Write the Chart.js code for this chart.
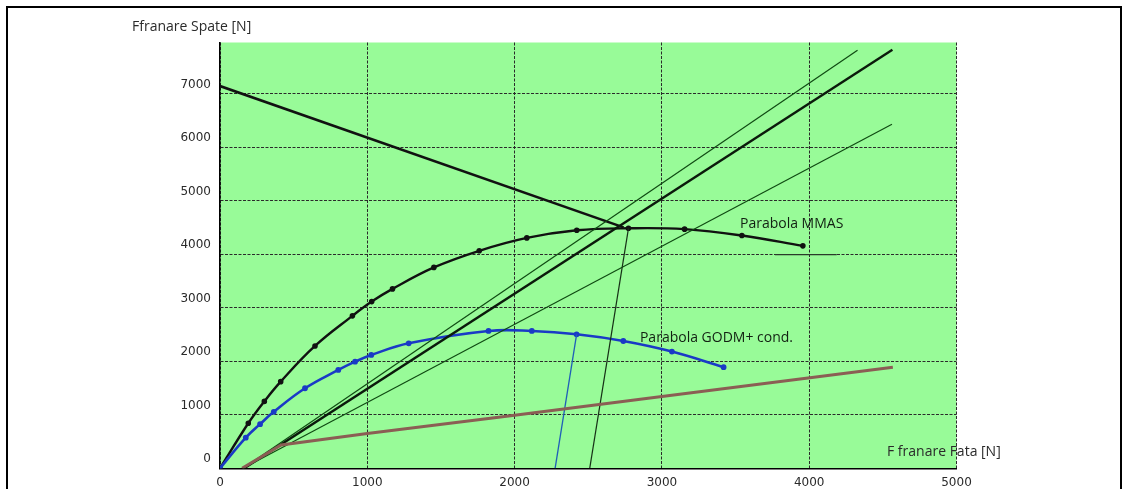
<!DOCTYPE html>
<html>
<head>
<meta charset="utf-8">
<script src="https://cdn.jsdelivr.net/npm/chart.js@4/dist/chart.umd.min.js"></script>
<style>
  html, body { margin: 0; padding: 0; background: #fff; width: 1132px; height: 489px; overflow: hidden; }
  #frame { position: absolute; left: 6px; top: 6px; width: 1112px; height: 500px;
           border: 2px solid #000; border-bottom: none; }
  #chart { position: absolute; left: 0; top: 0; }
</style>
</head>
<body>
<div id="frame"></div>
<canvas id="chart" width="1132" height="489"></canvas>
<script>
// Axis ticks
const xTicks = [0, 1000, 2000, 3000, 4000, 5000];
const yTicks = [0, 1000, 2000, 3000, 4000, 5000, 6000, 7000];

// Parabola MMAS (rear vs front braking force)
const mmasX = [0, 192, 301, 412, 645, 899, 1030, 1171, 1452, 1760, 2083, 2422, 2773, 3154, 3543, 3957];
const mmasY = [0, 841, 1250, 1618, 2285, 2847, 3114, 3351, 3752, 4063, 4303, 4446, 4483, 4467, 4348, 4155];

// Parabola GODM+ cond.
const godmX = [0, 175, 272, 365, 577, 803, 917, 1027, 1281, 1823, 2117, 2421, 2738, 3068, 3419];
const godmY = [0, 572, 825, 1055, 1495, 1837, 1992, 2117, 2335, 2565, 2565, 2503, 2378, 2180, 1888];

// Straight construction lines
const declineX = [0, 2740];
const declineY = [7140, 4500];
const thickX = [164, 4565];
const thickY = [0, 7819];
const upperX = [157, 4328];
const upperY = [0, 7806];
const lowerX = [157, 4562];
const lowerY = [0, 6425];
const brownX = [150, 415, 1000, 2000, 3000, 4568];
const brownY = [0, 436, 650, 990, 1340, 1888];
const steepDarkX = [2510, 2773];
const steepDarkY = [0, 4483];
const steepBlueX = [2275, 2421];
const steepBlueY = [0, 2503];
const shortX = [3768, 4187];
const shortY = [3990, 3990];

const pts = (xs, ys) => xs.map((x, i) => ({ x: x, y: ys[i] }));

function line(xs, ys, color, width, extra) {
  return Object.assign({
    data: pts(xs, ys),
    showLine: true,
    borderColor: color,
    backgroundColor: color,
    borderWidth: width,
    pointRadius: 0,
    tension: 0
  }, extra || {});
}

const datasets = [
  line(brownX, brownY, '#8b5e54', 3),
  line(lowerX, lowerY, '#0f4a12', 1.2),
  line(upperX, upperY, '#0f4a12', 1.2),
  line(thickX, thickY, '#0b1a0b', 2.4),
  line(steepDarkX, steepDarkY, '#163016', 1.2),
  line(steepBlueX, steepBlueY, '#1f5fb8', 1.3),
  line(shortX, shortY, '#2a3a2a', 1.2),
  line(godmX, godmY, '#1a3ac6', 2.6, { pointRadius: 1.6, tension: 0.4 }),
  line(mmasX, mmasY, '#111', 2.4, { pointRadius: 1.6, tension: 0.4 }),
  line(declineX, declineY, '#111', 2.6)
];

const plotBackground = {
  id: 'plotBackground',
  beforeDraw(chart) {
    const a = chart.chartArea, c = chart.ctx;
    c.save();
    c.fillStyle = '#98fb98';
    c.fillRect(a.left, a.top, a.right - a.left, a.bottom - a.top);
    c.restore();
  }
};

const annotations = {
  id: 'annotations',
  afterDatasetsDraw(chart) {
    const c = chart.ctx, xs = chart.scales.x, ys = chart.scales.y;
    c.save();
    c.font = '14px "Open Sans"';
    c.textBaseline = 'middle';
    c.textAlign = 'left';
    c.fillStyle = '#122012';
    c.fillText('Parabola MMAS', xs.getPixelForValue(3530), ys.getPixelForValue(4560));
    c.fillText('Parabola GODM+ cond.', xs.getPixelForValue(2851), ys.getPixelForValue(2437));
    c.fillStyle = '#2a2a2a';
    c.fillText('F franare Fata [N]', xs.getPixelForValue(4528), ys.bottom - 16);
    c.fillText('Ffranare Spate [N]', 132, 27);
    c.restore();
  }
};

new Chart(document.getElementById('chart'), {
  type: 'scatter',
  data: { datasets: datasets },
  options: {
    responsive: false,
    animation: false,
    events: [],
    layout: { padding: { top: 42.5, right: 175.5, left: 0, bottom: 0 } },
    plugins: { legend: { display: false }, tooltip: { enabled: false } },
    scales: {
      x: {
        type: 'linear',
        min: 0, max: 5000,
        afterFit(s) { s.height = 20.7; },
        afterBuildTicks(s) { s.ticks = xTicks.map(v => ({ value: v })); },
        grid: { color: '#2a2a2a', lineWidth: 1, drawTicks: false },
        border: { display: true, color: '#000', width: 1.5, dash: [3, 1.5] },
        ticks: { padding: 7, color: '#2a2a2a', font: { family: 'DejaVu Sans', size: 12 }, maxRotation: 0,
                 callback: v => String(v) }
      },
      y: {
        type: 'linear',
        min: 0, max: 7953,
        afterFit(s) { s.width = 220; },
        afterBuildTicks(s) { s.ticks = yTicks.map(v => ({ value: v })); },
        grid: { color: '#2a2a2a', lineWidth: 1, drawTicks: false },
        border: { display: true, color: '#000', width: 1.5, dash: [3, 1.5] },
        ticks: { padding: 9, labelOffset: -9, color: '#2a2a2a', font: { family: 'DejaVu Sans', size: 12 },
                 callback: v => String(v) }
      }
    }
  },
  plugins: [plotBackground, annotations]
});
</script>
</body>
</html>
